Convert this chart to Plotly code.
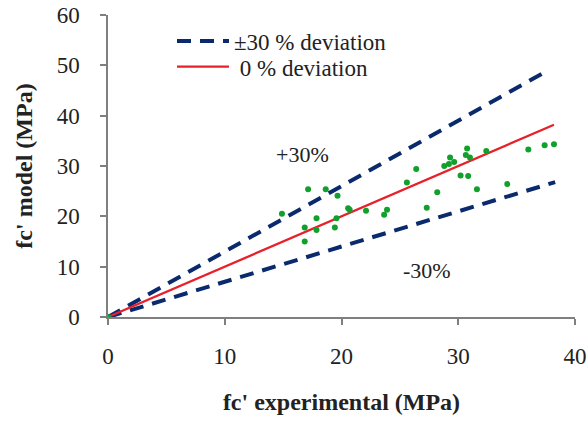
import plotly.graph_objects as go

# Experimental vs model compressive strength (MPa)
exp_vals = [0, 14.9, 16.85, 16.85, 17.14, 17.86, 17.86, 18.65, 19.43, 19.57, 19.66,
            20.57, 20.7, 22.1, 23.65, 23.9, 25.6, 26.4, 27.3, 28.2, 28.8, 29.2,
            29.3, 29.65, 30.2, 30.65, 30.76, 30.85, 31.0, 31.6, 32.4, 34.2,
            36.0, 37.4, 38.2]
model_vals = [0, 20.5, 17.8, 15.0, 25.4, 19.6, 17.3, 25.4, 17.8, 19.6, 24.1,
              21.6, 21.3, 21.1, 20.3, 21.3, 26.7, 29.4, 21.7, 24.8, 30.0, 30.4,
              31.7, 30.8, 28.1, 32.2, 33.5, 28.0, 31.7, 25.4, 33.0, 26.4,
              33.3, 34.1, 34.3]

# Reference lines
plus30_x = [0, 37.5]
plus30_y = [0, 48.75]
minus30_x = [0, 38.3]
minus30_y = [0, 26.8]
zero_x = [0, 38.2]
zero_y = [0, 38.2]

x_ticks = [0, 10, 20, 30, 40]
y_ticks = [0, 10, 20, 30, 40, 50, 60]

navy = "#0a2a6e"
red = "#e8202a"
green = "#12a02c"
font_family = "Liberation Serif, Times New Roman, serif"

fig = go.Figure()
fig.add_trace(go.Scatter(x=plus30_x, y=plus30_y, mode="lines",
                         line=dict(color=navy, width=4, dash="14px,9px"),
                         name="±30 % deviation", legend="legend"))
fig.add_trace(go.Scatter(x=minus30_x, y=minus30_y, mode="lines",
                         line=dict(color=navy, width=4, dash="14px,9px"),
                         showlegend=False))
fig.add_trace(go.Scatter(x=zero_x, y=zero_y, mode="lines",
                         line=dict(color=red, width=2.2),
                         name=" 0 % deviation", legend="legend2"))
fig.add_trace(go.Scatter(x=exp_vals, y=model_vals, mode="markers",
                         marker=dict(color=green, size=6),
                         showlegend=False))

fig.add_annotation(x=16.7, y=32.3, text="+30%", showarrow=False,
                   font=dict(family=font_family, size=22, color="#222"))
fig.add_annotation(x=27.3, y=9.2, text="-30%", showarrow=False,
                   font=dict(family=font_family, size=22, color="#222"))

axis_common = dict(showgrid=False, zeroline=False, showline=True,
                   linecolor="#7f7f7f", linewidth=1.5, ticks="outside",
                   ticklen=6, tickcolor="#7f7f7f", tickwidth=1.5,
                   automargin=False, ticklabeloverflow="allow",
                   tickfont=dict(family=font_family, size=23, color="#222"))

legend_common = dict(xanchor="left", yanchor="top", bgcolor="rgba(0,0,0,0)",
                     itemwidth=52,
                     font=dict(family=font_family, size=23, color="#222"))

fig.update_layout(
    width=587, height=423,
    margin=dict(l=108, r=12, t=15, b=106),
    plot_bgcolor="white", paper_bgcolor="white",
    showlegend=True,
    legend=dict(x=0.137, y=0.985, **legend_common),
    legend2=dict(x=0.137, y=0.9, **legend_common),
    xaxis=dict(range=[0, 40], tickvals=x_ticks, ticklabelstandoff=12,
               title=dict(text="<b>fc' experimental (MPa)</b>", standoff=25,
                          font=dict(family=font_family, size=24, color="#222")),
               **axis_common),
    yaxis=dict(range=[0, 60], tickvals=y_ticks, ticklabelstandoff=16,
               title=dict(text="<b>fc' model (MPa)</b>", standoff=17,
                          font=dict(family=font_family, size=24, color="#222")),
               **axis_common),
)

# Remove the default page margin so the figure fills the window exactly
fig.write_html("out.html",
               config={"displayModeBar": False},
               post_script="document.body.style.margin='0';"
                           "document.body.style.overflow='hidden';")
